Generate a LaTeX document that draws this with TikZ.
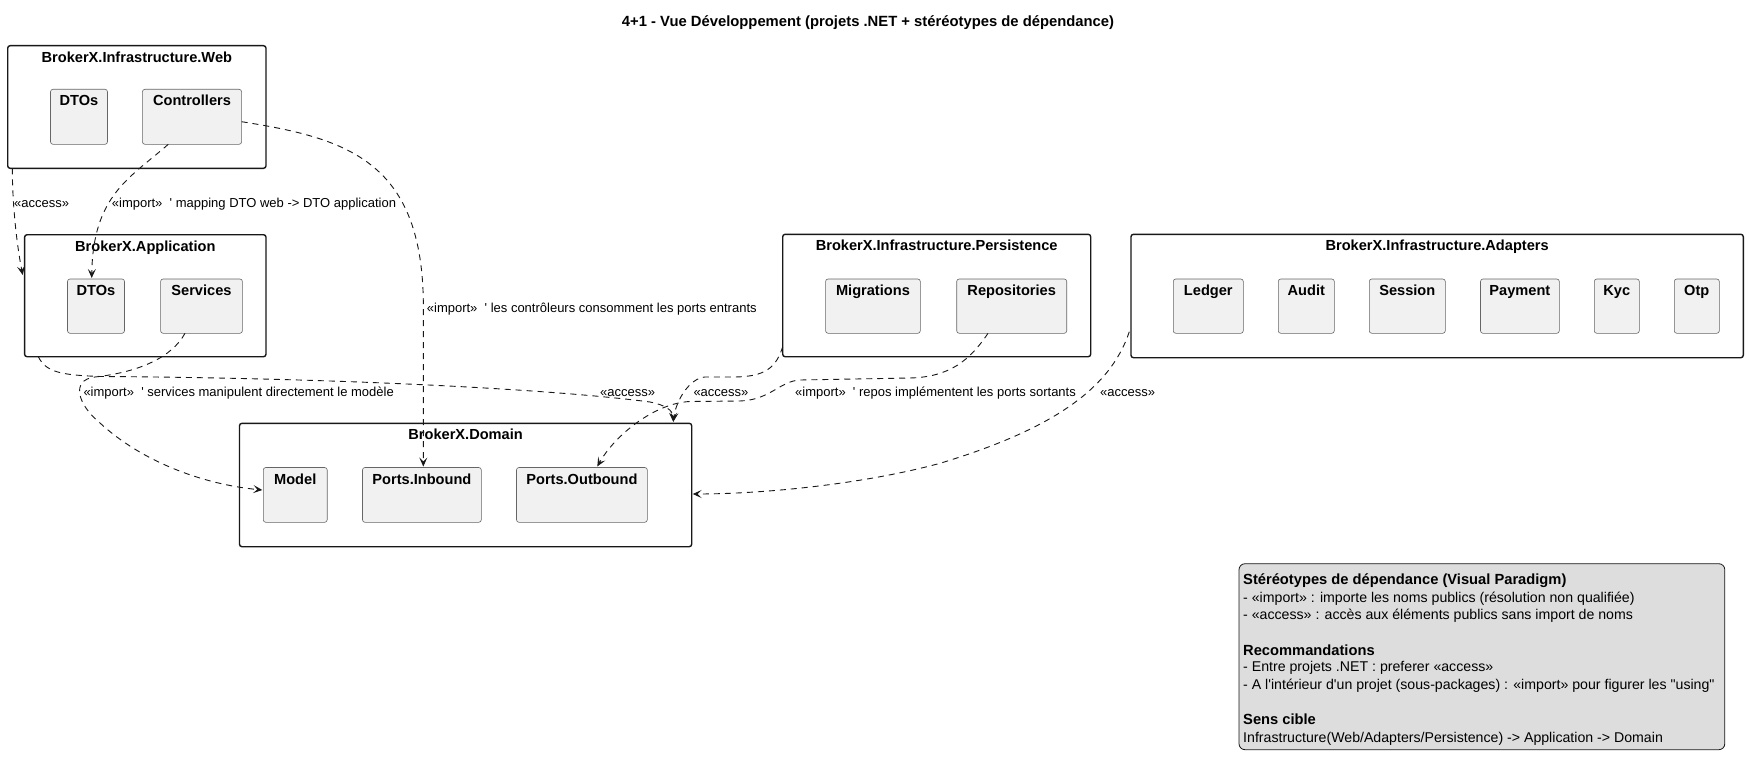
\documentclass[tikz,border=0pt]{standalone}
\usepackage{fontspec}
\newfontfamily\pf{Liberation Sans}
\usetikzlibrary{arrows.meta}
\definecolor{pkgfill}{HTML}{F1F1F1}
\definecolor{lnk}{HTML}{181818}
\definecolor{legfill}{HTML}{DDDDDD}
\newcommand\squote{\textquotesingle}
\newcommand\mkpkg[7]{%
  \node[#1, minimum width={(#5)-(#3)}, minimum height={(#6)-(#4)}] (#2) at (#3,#4) {};
  \node[ptitle] (#2t) at ([yshift=-16.5pt]#2.north) {#7};
}
\begin{document}
\begin{tikzpicture}[x=1pt,y=-1pt,
  outerpkg/.style={draw=lnk, line width=1.4pt, rounded corners=2.5pt, fill=white, anchor=north west, inner sep=0pt, outer sep=0pt},
  innerpkg/.style={draw=black!60, line width=0.6pt, rounded corners=2.5pt, fill=pkgfill, anchor=north west, inner sep=0pt, outer sep=0pt},
  ptitle/.style={anchor=base, inner sep=0pt, font=\pf\bfseries\fontsize{14.6}{16}\selectfont},
  mtitle/.style={anchor=base, inner sep=0pt, font=\pf\bfseries\fontsize{14.8}{16}\selectfont},
  elabel/.style={anchor=base west, inner sep=0pt, font=\pf\fontsize{13}{15}\selectfont},
  legtext/.style={anchor=base west, inner sep=0pt, font=\pf\fontsize{14.15}{16}\selectfont},
  legbold/.style={anchor=base west, inner sep=0pt, font=\pf\bfseries\fontsize{14.7}{16}\selectfont},
  dep/.style={draw=lnk, line width=0.9pt, dash pattern=on 6pt off 5pt, -{Stealth[length=9pt,width=8pt,inset=4pt]}}
]
\useasboundingbox[fill=white] (0,0) rectangle (1749,768);

% title
\node[mtitle] (title) at (868,26.7) {4+1 - Vue Développement (projets .NET + stéréotypes de dépendance)};

% Web
\mkpkg{outerpkg}{web}{7.7}{45.7}{266}{168.3}{BrokerX.Infrastructure.Web}
\mkpkg{innerpkg}{wdto}{50.5}{89.3}{107.5}{144.3}{DTOs}
\mkpkg{innerpkg}{wctrl}{142.4}{89.3}{241.6}{144.3}{Controllers}

% Application
\mkpkg{outerpkg}{app}{24.6}{234.7}{266}{356.7}{BrokerX.Application}
\mkpkg{innerpkg}{adto}{67.5}{279}{124.5}{333.3}{DTOs}
\mkpkg{innerpkg}{asvc}{160.6}{279}{242.4}{333.3}{Services}

% Domain
\mkpkg{outerpkg}{dom}{239.5}{423.3}{691.7}{546.7}{BrokerX.Domain}
\mkpkg{innerpkg}{model}{263.3}{467.5}{327.2}{522.3}{Model}
\mkpkg{innerpkg}{pin}{362.5}{467.5}{481.3}{522.3}{Ports.Inbound}
\mkpkg{innerpkg}{pout}{516.5}{467.5}{647.3}{522.3}{Ports.Outbound}

% Persistence
\mkpkg{outerpkg}{pers}{782.7}{234.3}{1090.7}{356.7}{BrokerX.Infrastructure.Persistence}
\mkpkg{innerpkg}{mig}{825.6}{279}{920.3}{333.3}{Migrations}
\mkpkg{innerpkg}{repo}{956.7}{279}{1066.7}{333.3}{Repositories}

% Adapters
\mkpkg{outerpkg}{adap}{1131}{234.3}{1743.3}{357.7}{BrokerX.Infrastructure.Adapters}
\mkpkg{innerpkg}{ledger}{1173.3}{279}{1243.3}{333.3}{Ledger}
\mkpkg{innerpkg}{audit}{1278.3}{279}{1334.3}{333.3}{Audit}
\mkpkg{innerpkg}{session}{1369.3}{279}{1445.3}{333.3}{Session}
\mkpkg{innerpkg}{payment}{1480.5}{279}{1559.3}{333.3}{Payment}
\mkpkg{innerpkg}{kyc}{1594.3}{279}{1639.3}{333.3}{Kyc}
\mkpkg{innerpkg}{otp}{1674.3}{279}{1719.3}{333.3}{Otp}

% connectors
\draw[dep] ([xshift=4.6pt]web.south west) .. controls (12.3,195) and (15,235) .. ([shift={(-1.9pt,20.7pt)}]app.west);
\draw[dep] ([xshift=-23.7pt]wctrl.south) .. controls (130,178) and (93,195) .. ([xshift=-4.3pt,yshift=1pt]adto.north);
\draw[dep] ([yshift=-4.9pt]wctrl.east) .. controls (345,138) and (421,160) .. (423.3,300) -- ([xshift=1.4pt,yshift=1pt]pin.north);
\draw[dep] ([xshift=-16.5pt]asvc.south) .. controls (172,357) and (140,372) .. (95,377) .. controls (70,380) and (78,405) .. (100,423) .. controls (140,460) and (200,484) .. ([xshift=-1pt,yshift=4.9pt]model.west);
\draw[dep] ([xshift=13.7pt]app.south west) .. controls (46,372) and (60,375) .. (100,376.5) .. controls (350,378) and (560,390) .. (650,402) .. controls (665,405) and (673,410) .. ([xshift=-18.4pt,yshift=1.5pt]dom.north east);
\draw[dep] ([yshift=10pt]pers.south west) .. controls (776,368) and (765,376.5) .. (735,377) -- (705,377) .. controls (690,378) and (676,400) .. ([xshift=-18.4pt,yshift=1.5pt]dom.north east);
\draw[dep] ([xshift=-23.7pt]repo.south) .. controls (970,360) and (950,377) .. (910,378) -- (800,380) .. controls (780,381) and (770,400) .. (740,401) -- (690,401.5) .. controls (655,403) and (615,435) .. ([xshift=15.4pt,yshift=1pt]pout.north);
\draw[dep] ([xshift=-1.7pt,yshift=26pt]adap.south west) .. controls (1110,390) and (1050,430) .. (940,463.3) .. controls (860,485) and (760,494) .. ([xshift=1pt,yshift=-9pt]dom.east);

% connector labels
\node[elabel] (l1) at (14,207) {«access»};
\node[elabel] (l2) at (111.7,207) {«import»\ \ \squote{} mapping DTO web -> DTO application};
\node[elabel] (l3) at (426.7,312.8) {«import»\ \ \squote{} les contrôleurs consomment les ports entrants};
\node[elabel] (l4) at (83.3,396.2) {«import»\ \ \squote{} services manipulent directement le modèle};
\node[elabel] (l5) at (600,396.2) {«access»};
\node[elabel] (l6) at (693.3,396.2) {«access»};
\node[elabel] (l7) at (795,396.2) {«import»\ \ \squote{} repos implémentent les ports sortants};
\node[elabel] (l8) at (1100,396.2) {«access»};

% legend
\node[draw=lnk, fill=legfill, line width=0.8pt, rounded corners=6pt, anchor=north west, inner sep=0pt,
      minimum width=485.8, minimum height=186] (legend) at (1238.6,563.3) {};
\node[legbold] (g1) at (1243,584.5) {Stéréotypes de dépendance (Visual Paradigm)};
\node[legtext] (g2) at (1243,602) {- «import» : importe les noms publics (résolution non qualifiée)};
\node[legtext] (g3) at (1243,619) {- «access» : accès aux éléments publics sans import de noms};
\node[legbold] (g4) at (1243,655) {Recommandations};
\node[legtext] (g5) at (1243,671.5) {- Entre projets .NET : preferer «access»};
\node[legtext] (g6) at (1243,689) {- A l\squote{}intérieur d\squote{}un projet (sous-packages) : «import» pour figurer les "using"};
\node[legbold] (g7) at (1243,724.5) {Sens cible};
\node[legtext] (g8) at (1243,742) {Infrastructure(Web/Adapters/Persistence) -> Application -> Domain};
\end{tikzpicture}
\end{document}
